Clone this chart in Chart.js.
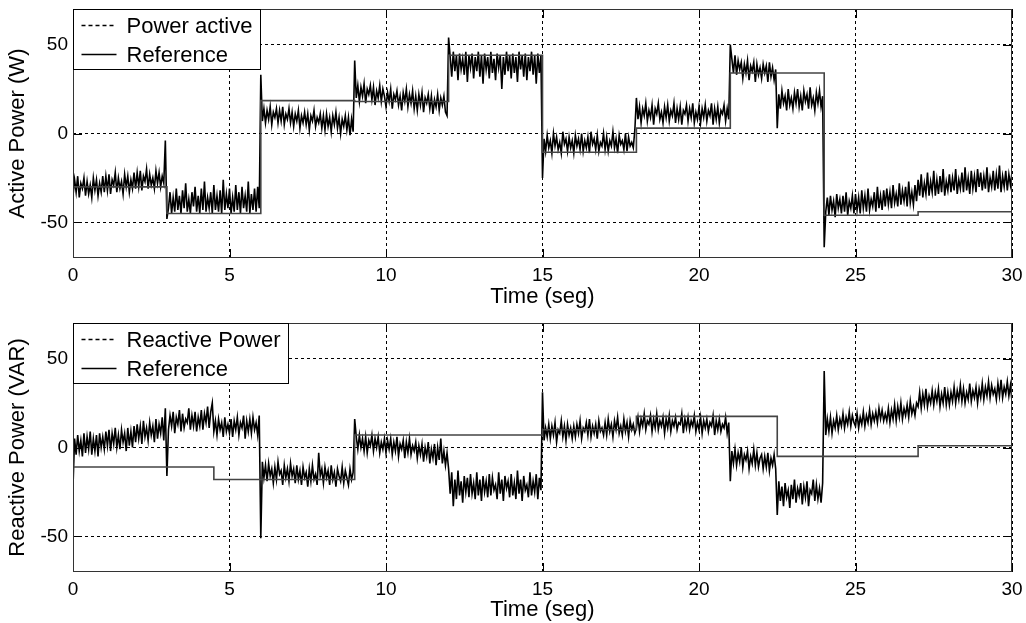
<!DOCTYPE html>
<html>
<head>
<meta charset="utf-8">
<script src="https://cdn.jsdelivr.net/npm/chart.js@4.4.0/dist/chart.umd.min.js"></script>
<style>
  body { margin: 0; background: #fff; }
  #wrap { position: relative; width: 1026px; height: 623px; }
  canvas { position: absolute; left: 0; }
</style>
</head>
<body>
<div id="wrap">
  <canvas id="topChart" width="1026" height="311" style="top:0px"></canvas>
  <canvas id="bottomChart" width="1026" height="312" style="top:311px"></canvas>
</div>
<script>
// sample spacing of the measured traces (seconds)
const timeStep = 0.05;
const xTicks = [0, 5, 10, 15, 20, 25, 30];
const yTicks = [-50, 0, 50];

// active power, 20 samples per row = one second, 0 .. 30 s
const activePower = [
  -35,-26,-33,-24,-36,-28,-31,-25,-35,-27,-34,-29,-36,-25,-32,-26,-35,-28,-33,-24,
  -33,-24,-32,-23,-34,-26,-29,-22,-33,-25,-31,-27,-34,-23,-30,-24,-33,-26,-31,-22,
  -31,-22,-30,-21,-32,-24,-27,-20,-31,-23,-29,-25,-31,-21,-28,-22,-30,-24,-28,-4,
  -48,-42,-33,-45,-36,-44,-31,-43,-35,-45,-32,-42,-28,-44,-37,-45,-33,-41,-30,-44,
  -35,-45,-31,-43,-27,-44,-36,-42,-33,-45,-29,-43,-35,-44,-32,-45,-26,-43,-34,-42,
  -31,-45,-36,-44,-29,-43,-33,-45,-30,-42,-35,-44,-27,-45,-34,-43,-31,-44,-30,-42,
  33,7,14,6,13,8,15,5,12,9,14,6,13,7,15,5,11,8,14,6,
  12,4,11,7,13,3,10,6,12,5,11,2,10,7,13,4,9,6,11,3,
  10,2,11,4,9,1,10,5,12,3,9,0,8,4,10,2,9,-1,8,1,
  41,20,27,18,26,21,28,17,25,22,27,19,26,16,24,20,27,18,25,21,
  15,23,18,25,14,22,19,24,16,21,13,23,18,25,15,22,17,24,14,21,
  13,22,16,23,12,20,17,22,14,21,11,19,15,22,13,20,16,21,12,10,
  54,43,32,46,35,44,30,45,36,42,33,46,29,44,37,45,31,43,35,46,
  32,44,28,45,36,43,31,46,34,42,30,45,37,44,25,43,33,46,35,44,
  31,45,34,43,29,46,36,44,32,45,30,43,35,46,33,44,28,45,34,44,
  -25,-3,-10,-1,-8,-4,-11,0,-7,-2,-9,-5,-11,1,-6,-3,-10,-2,-8,-4,
  -11,-1,-7,-3,-9,0,-10,-4,-8,-2,-11,1,-6,-3,-9,-1,-10,-5,-7,0,
  -9,-2,-10,-4,-7,1,-8,-3,-11,-1,-6,-4,-9,0,-10,-2,-7,-5,-8,2,
  20,8,15,6,14,10,17,7,13,9,16,5,14,11,17,8,12,6,15,9,
  16,7,13,10,17,6,14,8,15,5,13,11,16,7,14,9,17,6,12,8,
  15,6,14,9,16,7,13,10,17,5,14,8,15,6,13,11,16,7,14,8,
  50,42,34,44,33,41,36,40,31,39,34,41,30,38,35,40,29,39,33,37,
  31,39,34,38,29,40,32,37,30,36,3,22,14,24,17,21,13,25,16,20,
  14,23,17,25,15,21,13,24,18,22,14,26,16,20,13,23,17,24,15,21,
  -64,-44,-36,-46,-35,-43,-38,-47,-34,-42,-37,-45,-35,-44,-33,-46,-38,-42,-35,-45,
  -34,-43,-36,-45,-32,-42,-35,-44,-31,-43,-37,-41,-33,-44,-30,-42,-35,-43,-32,-41,
  -31,-40,-33,-42,-29,-39,-34,-41,-28,-40,-32,-38,-30,-41,-27,-39,-33,-40,-29,-38,
  -26,-35,-23,-36,-28,-34,-22,-35,-27,-33,-21,-35,-26,-34,-24,-33,-20,-35,-27,-32,
  -23,-33,-25,-32,-20,-34,-26,-31,-22,-33,-19,-32,-25,-34,-21,-31,-24,-33,-20,-30,
  -22,-32,-24,-31,-19,-33,-25,-30,-21,-32,-23,-31,-18,-33,-24,-30,-21,-32,-23,-29,
  -22
];

// reactive power, 20 samples per row = one second, 0 .. 30 s
const reactivePower = [
  -22,5,-4,7,-2,4,-5,8,-3,6,-1,9,-4,5,-2,7,-5,8,0,6,
  -1,9,1,10,-2,8,2,11,0,7,-1,10,3,8,-2,11,1,9,0,12,
  3,13,5,12,2,15,6,11,4,14,7,12,3,16,5,13,8,17,4,22,
  -16,10,18,12,20,8,17,13,21,9,19,11,16,14,22,10,18,12,20,9,
  17,12,21,10,19,14,23,11,20,25,9,15,7,16,10,14,6,17,9,13,
  8,16,6,15,10,17,7,14,11,18,5,15,9,16,8,17,10,14,7,18,
  -51,-8,-17,-10,-19,-9,-16,-12,-20,-11,-18,-8,-15,-13,-21,-10,-17,-12,-19,-9,
  -16,-12,-20,-10,-18,-13,-21,-11,-17,-14,-22,-12,-19,-10,-18,-15,-21,-3,-16,-12,
  -20,-11,-17,-13,-21,-10,-18,-14,-22,-12,-16,-19,-11,-20,-13,-17,-21,-12,-18,-14,
  16,6,-1,7,0,5,-2,6,-3,4,1,7,-2,5,0,6,-3,3,-1,5,
  -3,4,-1,5,-4,3,-2,6,-5,2,-1,4,-6,3,-3,5,-4,1,-2,3,
  -6,1,-4,2,-8,0,-5,3,-9,-1,-6,2,-10,0,-7,5,-9,-2,-10,-3,
  -12,-26,-14,-33,-18,-29,-13,-27,-19,-31,-16,-25,-17,-28,-15,-26,-20,-29,-14,-27,
  -18,-30,-16,-25,-19,-28,-15,-27,-17,-24,-21,-29,-14,-26,-18,-30,-16,-23,-19,-28,
  -15,-27,-20,-29,-13,-26,-18,-30,-16,-24,-21,-28,-14,-27,-19,-25,-15,-29,-17,-24,
  31,4,11,6,13,5,12,7,14,3,10,8,15,6,12,4,13,7,11,5,
  12,6,13,8,15,5,11,9,14,7,16,6,12,8,13,5,15,9,11,7,
  14,7,16,9,13,6,15,10,17,8,12,7,16,9,14,6,15,10,13,8,
  11,17,9,16,12,19,10,15,13,18,9,16,11,19,10,15,12,17,8,16,
  11,18,9,15,12,17,10,14,13,19,8,16,11,17,10,15,12,18,9,14,
  10,17,8,15,11,16,9,14,12,18,7,15,10,16,9,13,11,17,8,14,
  -19,-2,-9,-1,-10,-3,-8,0,-11,-4,-7,-2,-12,-5,-9,-1,-10,-3,-11,-6,
  -4,-12,-5,-11,-3,-13,-6,-10,-4,-12,-38,-19,-30,-22,-33,-20,-28,-24,-34,-21,
  -29,-18,-31,-23,-27,-20,-32,-22,-28,-19,-33,-24,-26,-18,-30,-21,-29,-23,-31,-20,
  43,7,16,9,17,8,15,11,18,10,16,12,19,11,17,13,20,12,18,14,
  12,19,11,17,13,20,12,18,14,21,13,19,15,20,14,22,16,21,15,19,
  15,22,14,21,16,24,15,23,17,25,16,22,18,24,17,26,19,23,18,25,
  23,31,22,30,24,33,23,29,25,32,24,31,26,33,23,30,25,34,24,31,
  24,31,26,34,25,32,27,35,26,33,25,31,27,36,26,32,28,34,25,33,
  28,36,27,34,29,37,28,35,30,33,27,36,29,38,28,34,30,37,29,35,
  26
];

// step references: value holds from each time until the next one
const refActiveTimes = [0, 3, 6, 9, 12, 15, 18, 21, 24, 27, 30];
const refActiveValues = [-30, -45, 18.5, 18, 44, -10.5, 3, 34, -46, -44, -44];
const refReactiveTimes = [0, 4.5, 9, 15, 18, 22.5, 27, 30];
const refReactiveValues = [-11, -18, 7, 10, 17.5, -5, 1, 1];

Chart.defaults.font.family = '"Liberation Sans", Arial, sans-serif';
Chart.defaults.color = '#000';

// MATLAB style box, inward ticks and the legend in the upper left corner
const frameLegend = {
  id: 'frameLegend',
  afterDraw(chart, args, opts) {
    const ctx = chart.ctx;
    const a = chart.chartArea;
    const xs = chart.scales.x, ys = chart.scales.y;
    ctx.save();
    ctx.strokeStyle = '#000';
    ctx.lineWidth = 1;
    ctx.beginPath();
    xTicks.forEach(v => {
      const px = Math.round(xs.getPixelForValue(v)) + 0.5;
      ctx.moveTo(px, a.bottom); ctx.lineTo(px, a.bottom - 9);
      ctx.moveTo(px, a.top); ctx.lineTo(px, a.top + 9);
    });
    yTicks.forEach(v => {
      const py = Math.round(ys.getPixelForValue(v)) + 0.5;
      ctx.moveTo(a.left, py); ctx.lineTo(a.left + 9, py);
      ctx.moveTo(a.right, py); ctx.lineTo(a.right - 9, py);
    });
    ctx.stroke();
    ctx.strokeStyle = '#333';
    ctx.strokeRect(Math.round(a.left) + 0.5, Math.round(a.top) + 0.5,
                   Math.round(a.width) - 1, Math.round(a.height) - 1);

    // legend
    const bx = Math.round(a.left) + 0.5, by = Math.round(a.top) + 0.5;
    ctx.fillStyle = '#fff';
    ctx.fillRect(bx, by, opts.width, 60);
    ctx.strokeStyle = '#000';
    ctx.strokeRect(bx, by, opts.width, 60);
    ctx.font = '22px "Liberation Sans", Arial, sans-serif';
    ctx.textBaseline = 'middle';
    ctx.fillStyle = '#000';
    opts.entries.forEach((e, i) => {
      const ry = by + 16 + i * 29;
      ctx.beginPath();
      ctx.setLineDash(e.dash);
      ctx.strokeStyle = e.color;
      ctx.lineWidth = 1.5;
      ctx.moveTo(bx + 8, ry);
      ctx.lineTo(bx + 43, ry);
      ctx.stroke();
      ctx.setLineDash([]);
      ctx.fillText(e.text, bx + 53, ry + 1);
    });
    ctx.restore();
  }
};

function makeChart(id, signal, refTimes, refValues, names, yTitle, geom) {
  const sig = signal.map((v, i) => ({ x: Math.round(i * timeStep * 100) / 100, y: v }));
  const ref = refTimes.map((t, i) => ({ x: t, y: refValues[i] }));
  return new Chart(document.getElementById(id), {
    type: 'line',
    data: {
      datasets: [
        { label: names[1], data: ref, borderColor: '#444', borderWidth: 1.6,
          pointRadius: 0, stepped: true, order: 0 },
        { label: names[0], data: sig, borderColor: '#000', borderWidth: 1.6,
          pointRadius: 0, tension: 0, order: 1 }
      ]
    },
    options: {
      responsive: false,
      animation: false,
      layout: { padding: { top: geom.top, right: 14, left: 0, bottom: 0 } },
      plugins: {
        legend: { display: false },
        tooltip: { enabled: false },
        frameLegend: {
          width: geom.legendWidth,
          entries: [
            { text: names[0], dash: [4, 3], color: '#000' },
            { text: names[1], dash: [], color: '#000' }
          ]
        }
      },
      scales: {
        x: {
          type: 'linear', min: 0, max: 30,
          afterBuildTicks: s => { s.ticks = xTicks.map(v => ({ value: v })); },
          afterFit: s => { s.height = geom.xHeight; s.paddingLeft = 0; s.paddingRight = 0; },
          grid: { color: '#000', lineWidth: 1, drawTicks: false },
          border: { display: false, dash: [3, 3] },
          ticks: { font: { size: 19 }, padding: 6, maxRotation: 0, autoSkip: false },
          title: { display: true, text: 'Time (seg)', font: { size: 22 },
                   padding: { top: 0, bottom: geom.titlePad } }
        },
        y: {
          min: -70, max: 70,
          afterBuildTicks: s => { s.ticks = yTicks.map(v => ({ value: v })); },
          afterFit: s => { s.width = 73; s.paddingTop = 0; s.paddingBottom = 0; },
          grid: { color: '#000', lineWidth: 1, drawTicks: false },
          border: { display: false, dash: [3, 3] },
          ticks: { font: { size: 19 }, padding: 5 },
          title: { display: true, text: yTitle, font: { size: 22 },
                   padding: { top: 5, bottom: 0 } }
        }
      }
    },
    plugins: [frameLegend]
  });
}

makeChart('topChart', activePower, refActiveTimes, refActiveValues,
  ['Power active', 'Reference'], 'Active Power (W)',
  { top: 9, xHeight: 53, titlePad: 1, legendWidth: 187 });
makeChart('bottomChart', reactivePower, refReactiveTimes, refReactiveValues,
  ['Reactive Power', 'Reference'], 'Reactive Power (VAR)',
  { top: 12, xHeight: 51, titlePad: 0, legendWidth: 215 });
</script>
</body>
</html>
